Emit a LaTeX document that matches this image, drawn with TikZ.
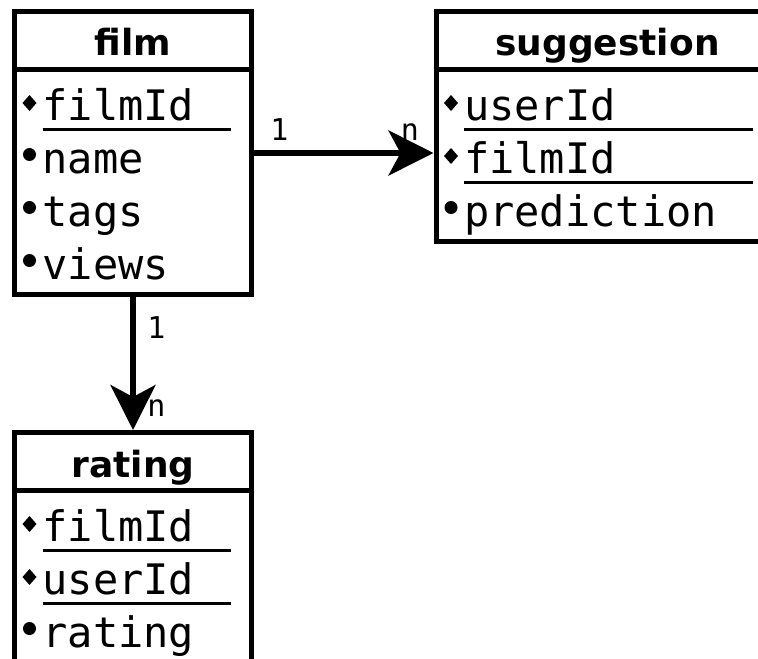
\documentclass[tikz,border=0pt]{standalone}
\usepackage{fontspec}
\setmainfont{DejaVu Sans}
\setmonofont{DejaVu Sans Mono}
\usetikzlibrary{positioning,arrows.meta,shapes.multipart}

\newcommand{\rowstrut}{\rule[-6.25pt]{0pt}{20.25pt}}
\newcommand{\tabletitle}[2]{\parbox[b]{#1}{\centering\rule[-5.5pt]{0pt}{26.5pt}\fontsize{18}{18}\selectfont\bfseries #2}}
\newcommand{\tablebody}[2]{\parbox[t]{#1}{\fontsize{21}{26.5}\selectfont\ttfamily\raggedright\rule{0pt}{24.25pt}#2}}
\newcommand{\pkrow}[2]{\rowstrut\makebox[14pt][l]{\hspace{4pt}\tikz[baseline=-8.75pt]\fill (0,4pt) -- (3.5pt,0) -- (0,-4pt) -- (-3.5pt,0) -- cycle;}\rlap{\rule[-5pt]{#1}{1.5pt}}#2}
\newcommand{\attrrow}[1]{\rowstrut\makebox[14pt][l]{\hspace{4.25pt}\tikz[baseline=-9.5pt]\fill (0,0) circle (3.25pt);}#1}

\begin{document}
\begin{tikzpicture}[
        table/.style = {rectangle split, rectangle split parts=2, draw,
                        line width=2.5pt, inner sep=0pt},
        rel/.style   = {-{Stealth[length=22.5pt, width=22.5pt, inset=6pt]}, line width=2.75pt},
        card/.style  = {font=\ttfamily\fontsize{15}{15}\selectfont, inner sep=0pt}
    ]
    \useasboundingbox (0,0) rectangle (379pt,-329pt);
    \node[table, anchor=north west] (film) at (6pt,-4.5pt)
        {\tabletitle{118.5pt}{film}\nodepart{second}\tablebody{118.5pt}{\pkrow{94pt}{filmId}\\\attrrow{name}\\\attrrow{tags}\\\attrrow{views}}};
    \node[table, right=89.75pt of film.north east, anchor=north west] (sugg)
        {\tabletitle{171.5pt}{suggestion}\nodepart{second}\tablebody{171.5pt}{\pkrow{144.5pt}{userId}\\\pkrow{144.5pt}{filmId}\\\attrrow{prediction}}};
    \node[table, below=66.5pt of film.south west, anchor=north west] (rating)
        {\tabletitle{118.5pt}{rating}\nodepart{second}\tablebody{118.5pt}{\pkrow{94pt}{filmId}\\\pkrow{94pt}{userId}\\\attrrow{rating}}};
    \draw[rel] (film.east) --
        node[card, at start, anchor=base, xshift=12.75pt, yshift=6.5pt] {1}
        node[card, at end, anchor=base, xshift=-11.75pt, yshift=6.5pt] {n}
        (film.east -| sugg.west);
    \draw[rel] (film.south) --
        node[card, at start, anchor=base, xshift=11.75pt, yshift=-20.75pt] {1}
        node[card, at end, anchor=base, xshift=11.75pt, yshift=6.75pt] {n}
        (rating.north);
\end{tikzpicture}
\end{document}
